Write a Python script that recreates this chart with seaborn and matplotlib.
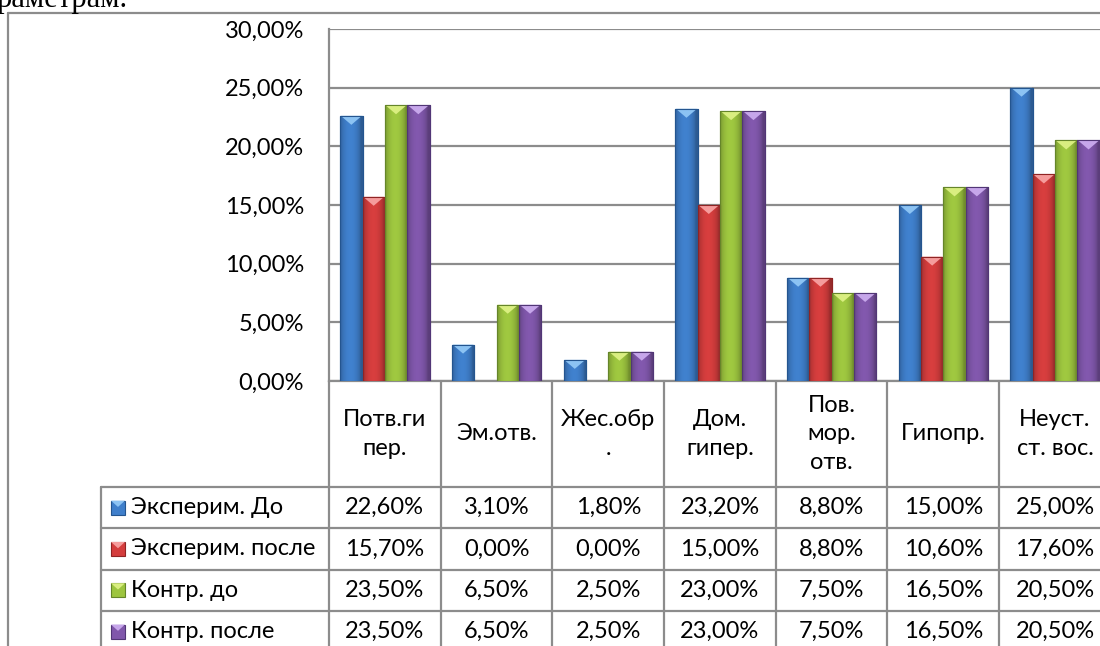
import numpy as np
import pandas as pd
import matplotlib
matplotlib.use("Agg")
import matplotlib.pyplot as plt
from matplotlib.patches import Polygon, Rectangle
from matplotlib.lines import Line2D
from matplotlib.colors import to_rgb
import seaborn as sns

# ---------------- data ----------------
categories = ["Потв.ги\nпер.", "Эм.отв.", "Жес.обр\n.", "Дом.\nгипер.",
              "Пов.\nмор.\nотв.", "Гипопр.", "Неуст.\nст. вос."]
series_names = ["Эксперим. До", "Эксперим. после", "Контр. до", "Контр. после"]
exp_before = [22.6, 3.1, 1.8, 23.2, 8.8, 15.0, 25.0]
exp_after = [15.7, 0.0, 0.0, 15.0, 8.8, 10.6, 17.6]
ctrl_before = [23.5, 6.5, 2.5, 23.0, 7.5, 16.5, 20.5]
ctrl_after = [23.5, 6.5, 2.5, 23.0, 7.5, 16.5, 20.5]
y_ticks = [0, 5, 10, 15, 20, 25, 30]

colors = ["#3f7fcb", "#d43d3d", "#9dc53f", "#8057ab"]
edge_colors = ["#24558f", "#8f2424", "#65852a", "#513676"]
top_colors = ["#8cc3f3", "#f59c9c", "#d9ee80", "#c6a6ea"]

series_values = [exp_before, exp_after, ctrl_before, ctrl_after]
rows = []
for name, vals in zip(series_names, series_values):
    for cat, v in zip(categories, vals):
        rows.append({"cat": cat, "series": name, "val": v})
df = pd.DataFrame(rows)

# ---------------- figure / layout ----------------
sns.set_theme(style="white")
plt.rcParams["font.family"] = ["Lato", "DejaVu Sans"]

W, H = 1100, 646
fig = plt.figure(figsize=(W / 100, H / 100), dpi=100)
L, T, B = 329, 29, 381
CW = 111.7
R = L + 7 * CW
ax = fig.add_axes([L / W, 1 - B / H, (R - L) / W, (B - T) / H])

sns.barplot(data=df, x="cat", y="val", hue="series", order=categories,
            hue_order=series_names, palette=colors, saturation=1, width=0.8,
            ax=ax, legend=False, zorder=3)

GRAY = "#8c8c8c"
FS = 17
TXT = "#000000"

ax.set_xlim(-0.5, 6.5)
ax.set_ylim(0, 30)
ax.set_yticks(y_ticks)
ax.set_yticklabels([f"{v:.2f}%".replace(".", ",") for v in y_ticks], fontsize=FS, color=TXT)
ax.tick_params(axis="y", length=0, pad=18)
ax.set_xticks([])
ax.set_xlabel("")
ax.set_ylabel("")
ax.yaxis.grid(True, color=GRAY, lw=1.6)
ax.set_axisbelow(True)
for s in ["top", "right"]:
    ax.spines[s].set_visible(False)
for s in ["left", "bottom"]:
    ax.spines[s].set_color(GRAY)
    ax.spines[s].set_linewidth(1.6)

# ---------------- 3D-ish bar styling ----------------
tri_depth = 9 / (B - T) * 30
tprof = np.linspace(0, 1, 64)
for k, cont in enumerate(ax.containers):
    base = np.array(to_rgb(colors[k]))
    prof = 0.72 + 0.30 * np.sin(np.pi * np.clip(tprof * 1.1, 0, 1)) ** 0.6
    grad = np.clip(base[None, None, :] * prof[None, :, None], 0, 1)
    for p in cont.patches:
        h = p.get_height()
        if h <= 0:
            p.set_visible(False)
            continue
        x0 = p.get_x()
        w = p.get_width()
        p.set_edgecolor(edge_colors[k])
        p.set_linewidth(0.8)
        im = ax.imshow(grad, extent=[x0, x0 + w, 0, h], aspect="auto",
                       zorder=3.2, interpolation="bilinear")
        im.set_clip_path(p)
        d = min(tri_depth, h)
        tri = Polygon([[x0 + w * 0.03, h], [x0 + w * 0.97, h], [x0 + w / 2, h - d]],
                      closed=True, facecolor=top_colors[k], edgecolor="none", zorder=3.4)
        ax.add_patch(tri)
        ax.add_patch(Rectangle((x0, 0), w, h, fill=False, edgecolor=edge_colors[k],
                               lw=0.8, zorder=3.5))

ax.set_xlim(-0.5, 6.5)
ax.set_ylim(0, 30)

# ---------------- data table ----------------
tr = ax.get_xaxis_transform()


def fy(yp):
    return (B - yp) / (B - T)


def fx(xp):
    return (xp - L) / CW - 0.5


header_bottom = 487
row_h = 41.3
row_edges = [header_bottom + i * row_h for i in range(5)]
x_leg = fx(101)

for i in range(8):
    ax.add_line(Line2D([i - 0.5, i - 0.5], [fy(B), fy(670)], color=GRAY, lw=1.6,
                       transform=tr, clip_on=False))
for ye in row_edges:
    ax.add_line(Line2D([x_leg, 6.5], [fy(ye), fy(ye)], color=GRAY, lw=1.6,
                       transform=tr, clip_on=False))
ax.add_line(Line2D([x_leg, x_leg], [fy(header_bottom), fy(670)], color=GRAY, lw=1.6,
                   transform=tr, clip_on=False))

for i, cat in enumerate(categories):
    ax.text(i, fy((B + header_bottom) / 2), cat, transform=tr, ha="center", va="center",
            fontsize=FS, color=TXT, linespacing=1.45, clip_on=False)

for r, (name, vals) in enumerate(zip(series_names, series_values)):
    yc = fy(row_edges[r] + row_h / 2)
    for i, v in enumerate(vals):
        ax.text(i, yc, f"{v:.2f}%".replace(".", ","), transform=tr, ha="center",
                va="center", fontsize=FS, color=TXT, clip_on=False)
    # legend key
    kx0, kw = fx(111), 14 / CW
    kh = 14 / (B - T)
    ax.add_patch(Rectangle((kx0, yc - kh / 2), kw, kh, transform=tr, facecolor=colors[r],
                           edgecolor=edge_colors[r], lw=0.8, clip_on=False, zorder=5))
    ax.add_patch(Polygon([[kx0, yc + kh / 2], [kx0 + kw, yc + kh / 2],
                          [kx0 + kw / 2, yc + kh / 2 - kh * 0.45]], transform=tr,
                         facecolor=top_colors[r], edgecolor="none", clip_on=False, zorder=6))
    ax.text(fx(131), yc, name, transform=tr, ha="left", va="center", fontsize=FS,
            color=TXT, clip_on=False)

# ---------------- outer frame and page text ----------------
fig.add_artist(Line2D([8 / W, 1.0], [1 - 13 / H, 1 - 13 / H], color=GRAY, lw=1.6,
                      transform=fig.transFigure))
fig.add_artist(Line2D([8 / W, 8 / W], [1 - 13 / H, 0.0], color=GRAY, lw=1.6,
                      transform=fig.transFigure))
fig.text(-3 / W, 1 - 7 / H, "раметрам.", family=["Liberation Serif", "DejaVu Serif"],
         fontsize=22, va="baseline", ha="left", color="#000000")

fig.savefig("out.png", dpi=100)
